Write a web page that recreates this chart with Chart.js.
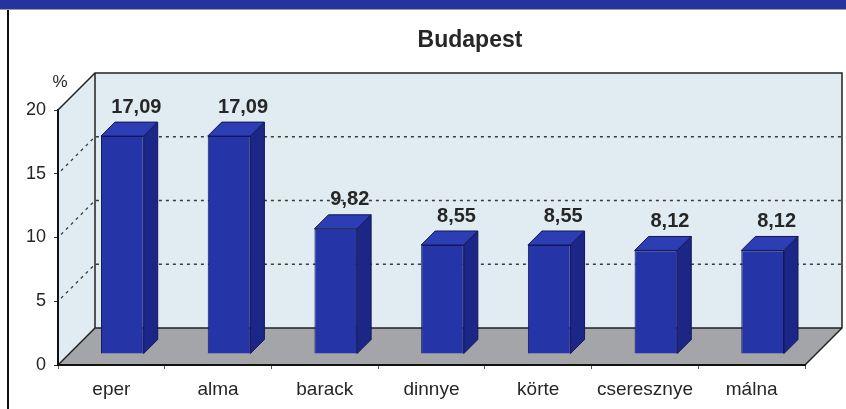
<!DOCTYPE html>
<html>
<head>
<meta charset="utf-8">
<script src="https://cdn.jsdelivr.net/npm/chart.js@4"></script>
<style>
  body { margin: 0; background: #fff; }
  canvas { display: block; }
</style>
</head>
<body>
<canvas id="gyumolcs" width="846" height="409"></canvas>
<script>
// kedvenc gyumolcsok, Budapest (%)
const categories = ['eper', 'alma', 'barack', 'dinnye', 'körte', 'cseresznye', 'málna']
const values = [17.09, 17.09, 9.82, 8.55, 8.55, 8.12, 8.12]
const yTicks = [0, 5, 10, 15, 20]

const FONT = "'Liberation Sans', Arial, sans-serif"
const TEXT = '#262626'

// depth of the box (back wall offset) and where the bars sit inside it
const WALL_DX = 37, WALL_DY = 37
const BAR_OFF = 11, BAR_DEPTH = 14

const box3d = {
  id: 'box3d',
  beforeDraw(chart) {
    const ctx = chart.ctx
    const y = chart.scales.y
    const a = chart.chartArea
    const x0 = a.left, x1 = a.right, yb = y.getPixelForValue(0), yt = y.getPixelForValue(20)

    // header strip + frame
    ctx.save()
    ctx.fillStyle = '#23339f'
    ctx.fillRect(0, 0, chart.width, 9)
    ctx.fillStyle = '#9a9ab0'
    ctx.fillRect(0, 9, chart.width, 1)
    ctx.fillStyle = '#111'
    ctx.fillRect(7, 10, 2, chart.height - 10)

    // back wall
    ctx.fillStyle = '#e0ebf2'
    ctx.fillRect(x0 + WALL_DX, yt - WALL_DY, x1 - x0, yb - yt)
    // side wall
    ctx.beginPath()
    ctx.moveTo(x0, yt)
    ctx.lineTo(x0 + WALL_DX, yt - WALL_DY)
    ctx.lineTo(x0 + WALL_DX, yb - WALL_DY)
    ctx.lineTo(x0, yb)
    ctx.closePath()
    ctx.fill()
    // floor
    ctx.fillStyle = '#a3a5a8'
    ctx.beginPath()
    ctx.moveTo(x0, yb)
    ctx.lineTo(x1, yb)
    ctx.lineTo(x1 + WALL_DX, yb - WALL_DY)
    ctx.lineTo(x0 + WALL_DX, yb - WALL_DY)
    ctx.closePath()
    ctx.fill()

    // dashed gridlines on both walls
    ctx.strokeStyle = '#3a3a3a'
    ctx.lineWidth = 1.3
    ctx.setLineDash([3, 4])
    yTicks.forEach(v => {
      if (v === 0 || v === 20) return
      const py = y.getPixelForValue(v)
      ctx.beginPath()
      ctx.moveTo(x0 + 3, py - 3)
      ctx.lineTo(x0 + WALL_DX, py - WALL_DY)
      ctx.lineTo(x1 + WALL_DX, py - WALL_DY)
      ctx.stroke()
    })
    ctx.setLineDash([])

    // wall edges
    ctx.strokeStyle = '#222'
    ctx.lineWidth = 1.5
    ctx.beginPath()
    ctx.moveTo(x0, yt)
    ctx.lineTo(x0 + WALL_DX, yt - WALL_DY)
    ctx.lineTo(x1 + WALL_DX, yt - WALL_DY)
    ctx.lineTo(x1 + WALL_DX, yb - WALL_DY)
    ctx.lineTo(x1, yb)
    ctx.moveTo(x0 + WALL_DX, yt - WALL_DY)
    ctx.lineTo(x0 + WALL_DX, yb - WALL_DY)
    ctx.lineTo(x1 + WALL_DX, yb - WALL_DY)
    ctx.moveTo(x0, yb)
    ctx.lineTo(x0 + WALL_DX, yb - WALL_DY)
    ctx.stroke()
    ctx.restore()
  },
  beforeDatasetDraw(chart) {
    // bars stand a little way back on the floor
    chart.ctx.save()
    chart.ctx.translate(BAR_OFF, -BAR_OFF)
  },
  afterDatasetDraw(chart, args) {
    const ctx = chart.ctx
    const d = BAR_DEPTH
    args.meta.data.forEach(bar => {
      const p = bar.getProps(['x', 'y', 'base', 'width'], true)
      const l = p.x - p.width / 2, r = p.x + p.width / 2
      ctx.strokeStyle = '#14185a'
      ctx.lineWidth = 1
      // top face
      ctx.fillStyle = '#2d3db3'
      ctx.beginPath()
      ctx.moveTo(l, p.y)
      ctx.lineTo(r, p.y)
      ctx.lineTo(r + d, p.y - d)
      ctx.lineTo(l + d, p.y - d)
      ctx.closePath()
      ctx.fill()
      ctx.stroke()
      // side face
      ctx.fillStyle = '#1c2687'
      ctx.beginPath()
      ctx.moveTo(r, p.y)
      ctx.lineTo(r + d, p.y - d)
      ctx.lineTo(r + d, p.base - d)
      ctx.lineTo(r, p.base)
      ctx.closePath()
      ctx.fill()
      ctx.stroke()
    })
    ctx.restore()
  },
  afterDraw(chart) {
    const ctx = chart.ctx
    ctx.save()
    ctx.fillStyle = TEXT
    ctx.textAlign = 'center'
    ctx.textBaseline = 'middle'

    // value labels above the bars
    ctx.font = 'bold 20px ' + FONT
    chart.getDatasetMeta(0).data.forEach((bar, i) => {
      const txt = values[i].toFixed(2).replace('.', ',')
      ctx.fillText(txt, bar.x + 25, bar.y - 40)
    })

    ctx.font = 'bold 23px ' + FONT
    ctx.fillText('Budapest', 470, 41)

    ctx.font = '17px ' + FONT
    ctx.fillText('%', 60, 82)
    ctx.restore()
  }
}

new Chart(document.getElementById('gyumolcs'), {
  type: 'bar',
  data: {
    labels: categories,
    datasets: [{
      data: values,
      backgroundColor: '#2535a8',
      borderColor: '#14185a',
      borderWidth: 1,
      barPercentage: 0.4,
      categoryPercentage: 1,
      clip: false
    }]
  },
  options: {
    responsive: false,
    animation: false,
    devicePixelRatio: 1,
    layout: { padding: { top: 110, left: 0, right: 41, bottom: 0 } },
    plugins: { legend: { display: false }, tooltip: { enabled: false } },
    scales: {
      x: {
        afterFit: s => { s.height = 44 },
        grid: { drawOnChartArea: false, offset: true, tickLength: 4, color: '#555' },
        border: { color: '#111', width: 2 },
        ticks: { font: { family: FONT, size: 19 }, color: TEXT, padding: 9 }
      },
      y: {
        min: 0,
        max: 20,
        afterFit: s => { s.width = 58 },
        afterBuildTicks: s => { s.ticks = yTicks.map(v => ({ value: v })) },
        grid: { drawOnChartArea: false, tickLength: 4, color: '#333' },
        border: { color: '#111', width: 2 },
        ticks: { font: { family: FONT, size: 18 }, color: TEXT, padding: 8 }
      }
    }
  },
  plugins: [box3d]
})
</script>
</body>
</html>
